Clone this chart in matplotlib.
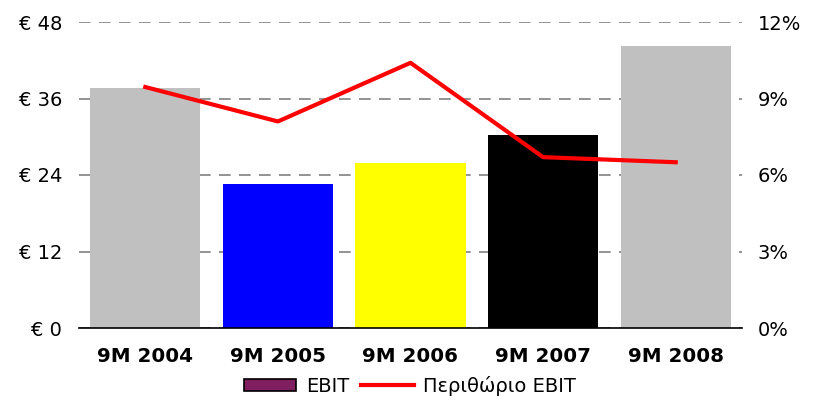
import matplotlib
matplotlib.use("Agg")
import matplotlib.pyplot as plt
from matplotlib.patches import Patch
from matplotlib.lines import Line2D
from matplotlib.ticker import FuncFormatter

categories = ["9M 2004", "9M 2005", "9M 2006", "9M 2007", "9M 2008"]
ebit = [37.6, 22.6, 25.9, 30.3, 44.2]
margin = [9.45, 8.1, 10.4, 6.7, 6.5]
bar_colors = ["#C0C0C0", "#0000FF", "#FFFF00", "#000000", "#C0C0C0"]
left_ticks = [0, 12, 24, 36, 48]
right_ticks = [0, 3, 6, 9, 12]

plt.rcParams['font.family'] = ['DejaVu Sans']
fs = 14

fig = plt.figure(figsize=(8.15, 4.0), dpi=100)
ax = fig.add_axes([79/815, 1-328/400, (742-79)/815, (328-22)/400])

x = list(range(len(categories)))
ax.bar(x, ebit, width=0.83, color=bar_colors, zorder=2)
ax.set_xlim(-0.5, 4.5)
ax.set_ylim(0, 48)
ax.set_yticks(left_ticks)
ax.yaxis.set_major_formatter(FuncFormatter(lambda v, p: f"€ {int(v)}"))
ax.set_axisbelow(True)
ax.yaxis.grid(True, color="#808080", linestyle=(0, (7, 5)), linewidth=1.2)
ax.set_xticks(x)
ax.set_xticklabels(categories, fontsize=fs + 0.3, fontweight="bold")
ax.tick_params(axis="x", length=0, pad=14)
ax.tick_params(axis="y", length=0, pad=12, labelsize=fs)
for s in ["top", "left", "right"]:
    ax.spines[s].set_visible(False)
ax.spines["bottom"].set_color("black")
ax.spines["bottom"].set_linewidth(1.2)

ax2 = ax.twinx()
ax2.plot(x, margin, color="#FF0000", linewidth=3, zorder=3)
ax2.set_ylim(0, 12)
ax2.set_yticks(right_ticks)
ax2.yaxis.set_major_formatter(FuncFormatter(lambda v, p: f"{int(v)}%"))
ax2.tick_params(axis="y", length=0, pad=11.5, labelsize=fs)
for s in ["top", "left", "right", "bottom"]:
    ax2.spines[s].set_visible(False)

handles = [Patch(facecolor="#7F1F5F", edgecolor="black", linewidth=1.2),
           Line2D([], [], color="#FF0000", linewidth=3)]
fig.legend(handles, ["EBIT", "Περιθώριο EBIT"], loc="center",
           bbox_to_anchor=(410/815, 1-386/400), ncol=2, frameon=False,
           fontsize=fs, handlelength=2.7, handleheight=0.6,
           handletextpad=0.5, columnspacing=0.6, borderpad=0)

fig.savefig("out.png", dpi=100)
